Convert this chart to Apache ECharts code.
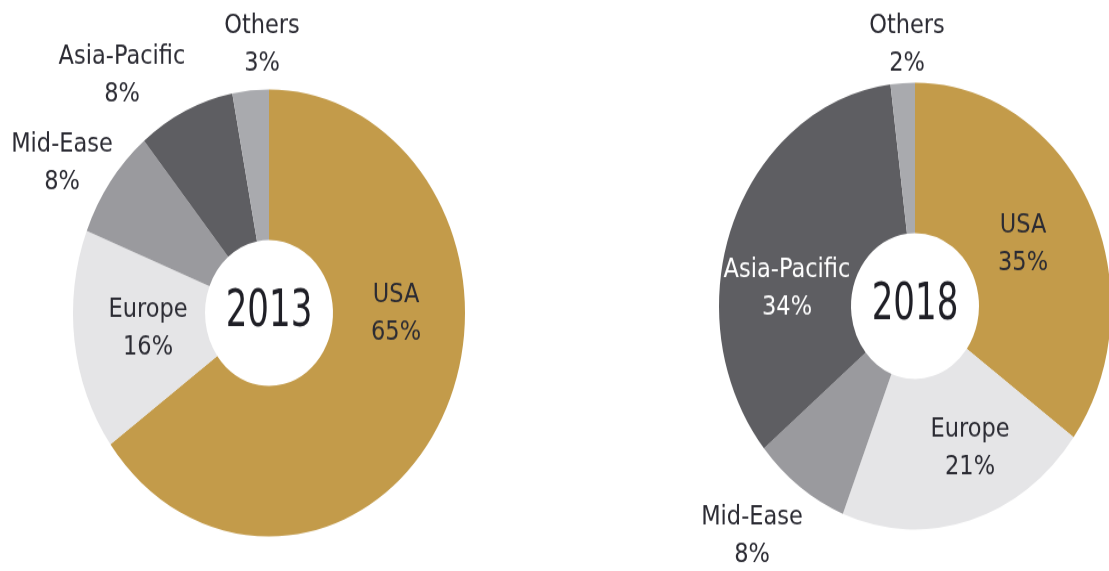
<!DOCTYPE html>
<html>
<head>
<meta charset="utf-8">
<script src="https://cdn.jsdelivr.net/npm/echarts@6/dist/echarts.min.js"></script>
<style>
html,body{margin:0;padding:0;background:#fff;overflow:hidden;width:1109px;height:571px;}
#chart{width:1109px;height:501px;transform:scaleY(1.14);transform-origin:0 0;}
</style>
</head>
<body>
<div id="chart"></div>
<script>
// ---- data ----
var regions = ['USA', 'Europe', 'Mid-Ease', 'Asia-Pacific', 'Others'];
var share2013 = [65, 16, 8, 8, 3];
var share2018 = [35, 21, 8, 34, 2];
var years = ['2013', '2018'];

// ---- styles / layout ----
var colors = ['#C39B4A', '#E5E5E7', '#9A9A9E', '#5E5E62', '#A9AAAE'];
var centers = [[269, 274.6], [915, 268.4]];
var labelPos = [
  [[396, 275.4], [148, 288.6], [62, 144], [122, 66.7], [262, 39.5]],
  [[1023, 215], [970, 394], [752, 471], [787, 253.5], [907, 39.5]]
];
var labelColors = [
  ['#2b2b33', '#2b2b33', '#2b2b33', '#2b2b33', '#2b2b33'],
  ['#2b2b33', '#2b2b33', '#2b2b33', '#ffffff', '#2b2b33']
];
var labelFont = '"DejaVu Sans", sans-serif';

function buildData(vals, si) {
  return regions.map(function (r, i) {
    return {
      name: r,
      value: vals[i],
      itemStyle: { color: colors[i] },
      label: { color: labelColors[si][i] }
    };
  });
}

function makeSeries(vals, si) {
  return {
    type: 'pie',
    center: centers[si],
    radius: [64, 196],
    startAngle: 90,
    clockwise: true,
    silent: true,
    animation: false,
    avoidLabelOverlap: false,
    label: {
      show: true,
      position: 'inside',
      fontFamily: labelFont,
      fontSize: 22.5,
      lineHeight: 33,
      align: 'center',
      formatter: function (p) { return p.name + '\n' + p.value + '%'; }
    },
    labelLine: { show: false },
    labelLayout: function (params) {
      var p = labelPos[si][params.dataIndex];
      return { x: p[0], y: p[1], align: 'center', verticalAlign: 'middle' };
    },
    data: buildData(vals, si)
  };
}

var chart = echarts.init(document.getElementById('chart'), null, { renderer: 'canvas' });
chart.setOption({
  backgroundColor: '#ffffff',
  series: [makeSeries(share2013, 0), makeSeries(share2018, 1)],
  graphic: years.map(function (y, i) {
    return {
      type: 'text',
      x: centers[i][0],
      y: centers[i][1],
      scaleX: 0.86,
      style: {
        text: y,
        fontFamily: '"DejaVu Sans Condensed", "DejaVu Sans", sans-serif',
        fontSize: 44,
        fill: '#1f1f26',
        align: 'center',
        verticalAlign: 'middle'
      }
    };
  })
});
</script>
</body>
</html>
